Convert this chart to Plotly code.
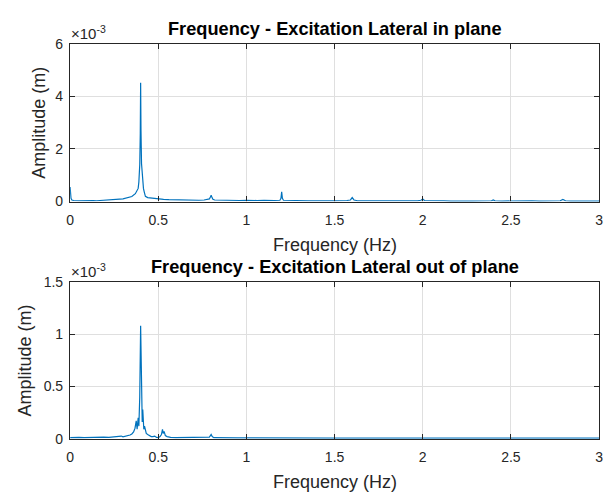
import plotly.graph_objects as go

# Amplitude spectra, amplitudes in units of 1e-3 m
freq_inplane = [0.000, 0.005, 0.010, 0.020, 0.050, 0.080, 0.100, 0.130, 0.150, 0.180,
                0.200, 0.230, 0.250, 0.280, 0.300, 0.330, 0.350, 0.370, 0.380, 0.386,
                0.390, 0.395, 0.398, 0.400, 0.402, 0.405, 0.410, 0.416, 0.420, 0.427,
                0.440, 0.460, 0.483, 0.500, 0.530, 0.560, 0.600, 0.630, 0.660, 0.700,
                0.730, 0.760, 0.780, 0.790, 0.795, 0.800, 0.805, 0.810, 0.820, 0.850,
                0.880, 0.900, 0.930, 0.960, 1.000, 1.030, 1.060, 1.100, 1.130, 1.160,
                1.190, 1.196, 1.200, 1.204, 1.210, 1.250, 1.280, 1.320, 1.350, 1.400,
                1.430, 1.470, 1.500, 1.540, 1.570, 1.590, 1.600, 1.610, 1.630, 1.670,
                1.700, 1.740, 1.780, 1.820, 1.860, 1.900, 1.940, 1.970, 1.990, 2.000,
                2.010, 2.040, 2.080, 2.120, 2.160, 2.200, 2.240, 2.280, 2.320, 2.360,
                2.390, 2.400, 2.410, 2.450, 2.500, 2.540, 2.580, 2.620, 2.660, 2.700,
                2.740, 2.780, 2.795, 2.810, 2.840, 2.880, 2.920, 2.960, 3.000]
amp_inplane = [0.55, 0.12, 0.06, 0.04, 0.03, 0.04, 0.03, 0.04, 0.03, 0.05,
               0.05, 0.06, 0.07, 0.09, 0.10, 0.15, 0.19, 0.30, 0.40, 0.50,
               0.75, 1.40, 2.60, 4.52, 2.70, 1.45, 0.75, 0.50, 0.38, 0.20,
               0.15, 0.13, 0.11, 0.09, 0.08, 0.07, 0.06, 0.06, 0.05, 0.05,
               0.05, 0.06, 0.07, 0.10, 0.16, 0.24, 0.15, 0.09, 0.06, 0.05,
               0.04, 0.04, 0.05, 0.04, 0.05, 0.04, 0.04, 0.05, 0.04, 0.04,
               0.05, 0.12, 0.37, 0.12, 0.05, 0.04, 0.03, 0.04, 0.03, 0.03,
               0.04, 0.03, 0.03, 0.03, 0.04, 0.06, 0.15, 0.06, 0.03, 0.03,
               0.03, 0.02, 0.03, 0.03, 0.02, 0.03, 0.02, 0.03, 0.05, 0.10,
               0.04, 0.03, 0.02, 0.03, 0.02, 0.03, 0.02, 0.02, 0.03, 0.02,
               0.03, 0.06, 0.03, 0.02, 0.03, 0.02, 0.02, 0.03, 0.02, 0.03,
               0.02, 0.03, 0.08, 0.03, 0.02, 0.02, 0.03, 0.02, 0.02]

freq_outplane = [0.000, 0.010, 0.030, 0.050, 0.080, 0.100, 0.130, 0.160, 0.190, 0.220,
                 0.250, 0.270, 0.290, 0.300, 0.320, 0.340, 0.350, 0.360, 0.368, 0.375,
                 0.380, 0.386, 0.390, 0.395, 0.400, 0.403, 0.406, 0.409, 0.412, 0.415,
                 0.418, 0.422, 0.427, 0.432, 0.440, 0.450, 0.460, 0.470, 0.480, 0.490,
                 0.500, 0.510, 0.518, 0.524, 0.528, 0.533, 0.540, 0.550, 0.570, 0.600,
                 0.630, 0.660, 0.700, 0.730, 0.760, 0.790, 0.800, 0.806, 0.815, 0.830,
                 0.860, 0.900, 0.950, 1.000, 1.050, 1.100, 1.150, 1.200, 1.250, 1.300,
                 1.400, 1.500, 1.600, 1.700, 1.800, 1.900, 2.000, 2.100, 2.200, 2.300,
                 2.400, 2.500, 2.600, 2.700, 2.800, 2.900, 3.000]
amp_outplane = [0.010, 0.012, 0.010, 0.013, 0.010, 0.012, 0.011, 0.013, 0.014, 0.012,
                0.015, 0.017, 0.025, 0.018, 0.025, 0.035, 0.045, 0.065, 0.10, 0.17,
                0.09, 0.20, 0.12, 0.40, 1.08, 0.55, 0.20, 0.16, 0.28, 0.14,
                0.09, 0.12, 0.07, 0.05, 0.04, 0.03, 0.02, 0.02, 0.025, 0.012,
                0.010, 0.02, 0.04, 0.09, 0.05, 0.07, 0.03, 0.02, 0.012, 0.010,
                0.010, 0.009, 0.010, 0.009, 0.010, 0.015, 0.04, 0.02, 0.010, 0.009,
                0.008, 0.008, 0.008, 0.008, 0.007, 0.008, 0.007, 0.008, 0.006, 0.006,
                0.005, 0.005, 0.005, 0.005, 0.005, 0.005, 0.005, 0.005, 0.005, 0.005,
                0.005, 0.005, 0.005, 0.005, 0.005, 0.005, 0.005]

x_ticks = [0, 0.5, 1, 1.5, 2, 2.5, 3]
x_ticklabels = ["0", "0.5", "1", "1.5", "2", "2.5", "3"]
y_ticks_inplane = [0, 2, 4, 6]
y_ticks_outplane = [0, 0.5, 1, 1.5]
y_ticklabels_outplane = ["0", "0.5", "1", "1.5"]

titles = ["Frequency - Excitation Lateral in plane",
          "Frequency - Excitation Lateral out of plane"]

W, H = 605, 497
LINE = "#0072BD"
AXC = "#262626"
GRID = "#dfdfdf"
FONT = "Liberation Sans, Arial, sans-serif"

x_dom = [67 / W, 603 / W]
top_dom = [(H - 200) / H, (H - 37) / H]
bot_dom = [(H - 445) / H, (H - 283) / H]
ylabel_x = [35.5 / W, 21.5 / W]

fig = go.Figure()
fig.add_trace(go.Scatter(x=freq_inplane, y=amp_inplane, mode="lines",
                         line=dict(color=LINE, width=1.2), xaxis="x", yaxis="y",
                         showlegend=False))
fig.add_trace(go.Scatter(x=freq_outplane, y=amp_outplane, mode="lines",
                         line=dict(color=LINE, width=1.2), xaxis="x2", yaxis="y2",
                         showlegend=False))

axis_common = dict(showline=True, linecolor=AXC, linewidth=1.3, mirror="allticks",
                   ticks="inside", ticklen=5, tickcolor=AXC, tickwidth=1.3,
                   showgrid=True, gridcolor=GRID, gridwidth=1, zeroline=False,
                   ticklabeloverflow="allow",
                   tickfont=dict(family=FONT, size=14, color=AXC))

label_font = dict(family=FONT, size=18, color=AXC)

fig.update_layout(
    width=W, height=H, margin=dict(l=0, r=0, t=0, b=0),
    paper_bgcolor="white", plot_bgcolor="white",
    xaxis=dict(domain=x_dom, anchor="y", range=[0, 3], tickvals=x_ticks,
               ticktext=x_ticklabels, ticklabelstandoff=5, **axis_common),
    yaxis=dict(domain=top_dom, anchor="x", range=[0, 6], tickvals=y_ticks_inplane,
               ticklabelstandoff=3, **axis_common),
    xaxis2=dict(domain=x_dom, anchor="y2", range=[0, 3], tickvals=x_ticks,
                ticktext=x_ticklabels, ticklabelstandoff=5, **axis_common),
    yaxis2=dict(domain=bot_dom, anchor="x2", range=[0, 1.5], tickvals=y_ticks_outplane,
                ticktext=y_ticklabels_outplane, ticklabelstandoff=3, **axis_common),
)

xc = (x_dom[0] + x_dom[1]) / 2
for dom, title, ylx in zip([top_dom, bot_dom], titles, ylabel_x):
    # panel title
    fig.add_annotation(x=xc, y=dom[1], xref="paper", yref="paper",
                       text="<b>" + title + "</b>", showarrow=False,
                       xanchor="center", yanchor="middle", yshift=14.5,
                       font=dict(family=FONT, size=18.2, color="black"))
    # exponent multiplier for the amplitude axis
    fig.add_annotation(x=x_dom[0], y=dom[1], xref="paper", yref="paper",
                       text="×10<sup>-3</sup>", showarrow=False,
                       xanchor="left", yanchor="bottom", yshift=0, xshift=-1,
                       font=dict(family=FONT, size=15, color=AXC))
    # axis titles
    fig.add_annotation(x=xc, y=dom[0], xref="paper", yref="paper",
                       text="Frequency (Hz)", showarrow=False,
                       xanchor="center", yanchor="middle", yshift=-43,
                       font=label_font)
    fig.add_annotation(x=ylx, y=(dom[0] + dom[1]) / 2, xref="paper", yref="paper",
                       text="Amplitude (m)", showarrow=False, textangle=-90,
                       xanchor="center", yanchor="middle",
                       font=label_font)

fig.write_html("out.html")
